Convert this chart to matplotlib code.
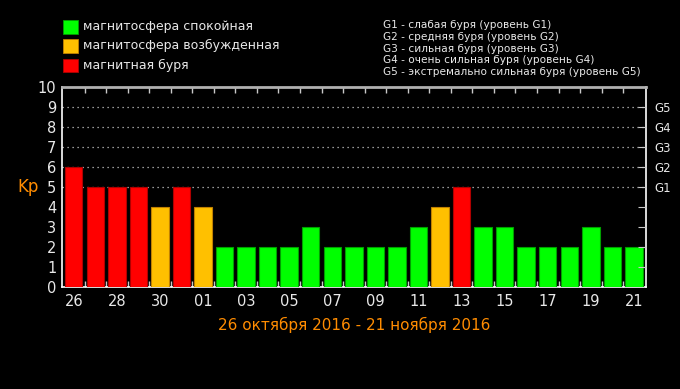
import matplotlib
matplotlib.use("Agg")
import matplotlib.pyplot as plt
from matplotlib.patches import Rectangle

days = ["26", "27", "28", "29", "30", "31", "01", "02", "03", "04", "05", "06", "07", "08",
        "09", "10", "11", "12", "13", "14", "15", "16", "17", "18", "19", "20", "21"]
kp = [6, 5, 5, 5, 4, 5, 4, 2, 2, 2, 2, 3, 2, 2, 2, 2, 3, 4, 5, 3, 3, 2, 2, 2, 3, 2, 2]
g_levels = [5, 6, 7, 8, 9]
g_labels = ["G1", "G2", "G3", "G4", "G5"]
legend_labels = ["магнитосфера спокойная", "магнитосфера возбужденная", "магнитная буря"]
g_desc = ["G1 - слабая буря (уровень G1)",
          "G2 - средняя буря (уровень G2)",
          "G3 - сильная буря (уровень G3)",
          "G4 - очень сильная буря (уровень G4)",
          "G5 - экстремально сильная буря (уровень G5)"]
date_range = "26 октября 2016 - 21 ноября 2016"

GREEN, ORANGE, RED = "#00ff00", "#ffc000", "#ff0000"
EDGE = {GREEN: "#00a000", ORANGE: "#c08000", RED: "#b00000"}

def color_for(v):
    if v >= 5:
        return RED
    if v == 4:
        return ORANGE
    return GREEN

fig = plt.figure(figsize=(6.8, 3.89), dpi=100, facecolor="black")
ax = fig.add_axes([62/680, 1-287/389, 584/680, 200/389], facecolor="black")

x = list(range(len(days)))
cols = [color_for(v) for v in kp]
ax.bar(x, kp, width=0.81, color=cols, edgecolor=[EDGE[c] for c in cols], linewidth=0.8, zorder=3)

ax.set_xlim(-0.545, len(days) - 0.44)
ax.set_ylim(0, 10)

for g in g_levels:
    ax.axhline(g, color="#c8c8c8", linestyle=(0, (1, 3)), linewidth=0.9, zorder=1)

for s in ["left", "right", "bottom"]:
    ax.spines[s].set_color("white")
    ax.spines[s].set_linewidth(1.2)
ax.spines["top"].set_color("#b0b0b0")
ax.spines["top"].set_linewidth(2)

ax.set_yticks(range(0, 11))
ax.set_yticklabels([str(i) for i in range(0, 11)], color="#e8e8e8", fontsize=10.5)
ax.tick_params(axis="y", which="major", left=False, length=0, pad=4)

ax.set_xticks(x[::2])
ax.set_xticklabels(days[::2], color="#e8e8e8", fontsize=10.5)
ax.tick_params(axis="x", which="major", length=0, pad=5)
ax.set_xticks([i + 0.5 for i in x[:-1]], minor=True)
ax.tick_params(axis="x", which="minor", direction="in", top=True, bottom=True,
               length=4, color="#c8c8c8", width=1)

ax2 = ax.twinx()
ax2.set_ylim(0, 10)
ax2.set_yticks(range(1, 10))
ax2.set_yticklabels([""] * 4 + g_labels, color="#e8e8e8", fontsize=8.5,
                    family="DejaVu Sans Condensed")
ax2.tick_params(axis="y", direction="in", length=6, color="#c8c8c8", pad=6)
for s in ax2.spines.values():
    s.set_visible(False)

fig.text(28/680, 1-187/389, "Kp", color="#ff8c00", fontsize=12, ha="center", va="center")
ax.set_xlabel(date_range, color="#ff8c00", fontsize=11, labelpad=6)

for i, (lab, c) in enumerate(zip(legend_labels, [GREEN, ORANGE, RED])):
    ytop = 20 + i * 19.3
    fig.patches.append(Rectangle((63/680, 1-(ytop+13.5)/389), 15/680, 13.5/389,
                                 transform=fig.transFigure, facecolor=c,
                                 edgecolor=EDGE[c], linewidth=0.6))
    fig.text(83/680, 1-(ytop+6.5)/389, lab, color="#e8e8e8", fontsize=9,
             family="DejaVu Sans Condensed", va="center", ha="left")

for i, t in enumerate(g_desc):
    fig.text(383/680, 1-(25 + i*11.8)/389, t, color="#e8e8e8", fontsize=7.6,
             family="DejaVu Sans Condensed", va="center", ha="left")

fig.savefig("out.png", dpi=100, facecolor="black")
